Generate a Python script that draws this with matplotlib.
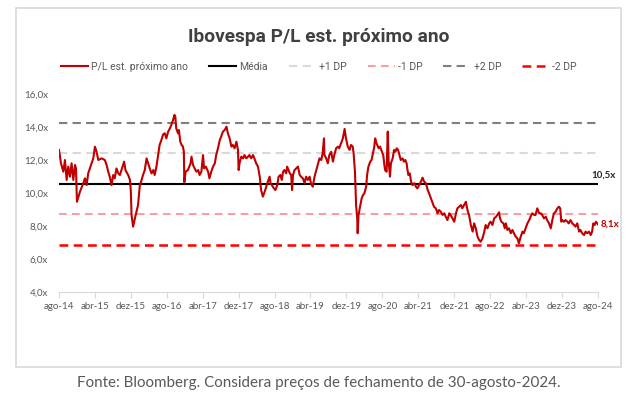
import matplotlib

matplotlib.use("Agg")

import matplotlib.pyplot as plt
import numpy as np
import pandas as pd
from matplotlib.patches import Rectangle

# months after 1-ago-2014 and P/L
MONTHS = [
    0.0, 0.44, 0.96, 1.33, 1.7, 2.07, 2.44, 2.8, 3.19, 3.56, 3.78, 4.0, 4.67, 5.4, 5.78, 6.15,
    6.5, 7.26, 7.63, 8.0, 8.37, 8.74, 9.48, 10.2, 10.6, 10.96, 11.3, 11.7, 12.07, 12.4, 12.8,
    13.2, 13.56, 13.9, 14.5, 14.8, 15.4, 15.8, 16.0, 16.15, 16.5, 16.9, 17.26, 17.6, 18.0,
    18.4, 18.7, 19.1, 19.5, 19.85, 20.2, 20.6, 21.0, 21.3, 21.7, 22.07, 22.4, 22.8, 23.2,
    23.55, 23.9, 24.3, 24.7, 25.0, 25.4, 25.7, 25.9, 26.1, 26.5, 26.7, 27.0, 27.3, 27.6,
    27.8, 27.9, 28.2, 28.7, 29.3, 29.5, 29.85, 30.2, 30.6, 31.0, 31.3, 31.7, 32.07, 32.3,
    32.7, 33.2, 33.5, 33.9, 34.3, 34.7, 35.0, 35.4, 35.8, 36.1, 36.5, 36.9, 37.3, 37.6,
    38.0, 38.4, 38.7, 39.1, 39.5, 39.85, 40.0, 40.2, 40.6, 41.0, 41.3, 41.7, 42.1, 42.4,
    42.8, 43.2, 43.5, 43.9, 44.3, 44.7, 45.0, 45.4, 45.8, 46.15, 46.5, 46.9, 47.1, 47.4,
    47.85, 48.2, 48.6, 48.9, 49.3, 49.6, 49.9, 50.2, 50.6, 50.8, 51.1, 51.4, 51.7, 51.9,
    52.1, 52.45, 52.8, 53.2, 53.6, 53.9, 54.3, 54.7, 55.0, 55.4, 55.8, 56.1, 56.5, 56.9,
    57.3, 57.6, 58.0, 58.4, 58.7, 59.0, 59.1, 59.5, 59.85, 60.2, 60.6, 61.0, 61.3, 61.7,
    62.1, 62.4, 62.8, 63.2, 63.6, 63.9, 64.3, 64.7, 65.0, 65.4, 65.6, 65.9, 66.15, 66.4,
    66.5, 66.7, 67.1, 67.4, 67.7, 68.0, 68.4, 68.6, 68.9, 69.3, 69.6, 70.2, 70.4, 70.7,
    71.2, 71.5, 71.9, 72.2, 72.4, 72.6, 72.95, 73.2, 73.4, 73.7, 73.9, 74.3, 74.6, 74.9,
    75.2, 75.5, 75.8, 76.1, 76.5, 76.8, 77.1, 77.4, 77.6, 77.8, 78.1, 78.4, 78.7, 79.1,
    79.5, 79.8, 80.2, 80.6, 80.95, 81.3, 81.7, 82.1, 82.4, 82.8, 83.2, 83.5, 83.9, 84.3,
    84.6, 85.0, 85.4, 85.8, 86.1, 86.5, 86.9, 87.2, 87.6, 88.0, 88.4, 88.7, 89.1, 89.5,
    89.8, 90.2, 90.6, 90.95, 91.3, 91.7, 92.1, 92.44, 92.8, 93.2, 93.55, 93.9, 94.3, 94.7,
    95.0, 95.4, 95.8, 96.1, 96.5, 96.9, 97.3, 97.6, 98.0, 98.2, 98.5, 98.96, 99.26, 99.5,
    99.85, 100.2, 100.6, 100.96, 101.3, 101.7, 102.07, 102.4, 102.8, 103.2, 103.5, 103.9,
    104.3, 104.7, 105.0, 105.4, 105.8, 106.1, 106.5, 106.9, 107.3, 107.6, 108.0, 108.4,
    108.7, 109.1, 109.5, 109.85, 110.2, 110.6, 110.96, 111.3, 111.6, 111.85, 112.07, 112.4,
    112.8, 113.2, 113.5, 113.9, 114.3, 114.7, 115.0, 115.4, 115.8, 116.1, 116.5, 116.9,
    117.25, 117.6, 118.0, 118.4, 118.7, 118.96, 119.26, 119.56, 119.85, 120.0,
]
PE = [
    12.61, 11.80, 11.29, 12.00, 10.79, 11.60, 10.99, 11.80, 10.79, 11.70, 11.49, 9.47, 10.08, 10.59, 10.89, 10.48,
    11.19, 11.80, 12.10, 12.81, 12.50, 12.00, 12.10, 12.00, 11.70, 11.29, 10.99, 10.48, 11.09, 10.89, 11.49,
    11.19, 11.09, 11.39, 11.90, 11.39, 11.09, 10.79, 10.08, 8.67, 7.96, 8.46, 8.87, 9.27, 10.48,
    10.79, 11.09, 11.39, 12.10, 11.80, 11.49, 11.19, 11.39, 11.09, 11.60, 12.30, 12.91, 13.21, 13.56,
    13.62, 13.31, 13.72, 13.92, 14.12, 14.42, 14.73, 14.63, 13.92, 13.62, 13.82, 13.11, 12.91, 12.81,
    12.50, 10.65, 11.29, 11.39, 11.80, 12.20, 11.70, 11.49, 11.29, 11.39, 11.09, 11.29, 12.30, 11.49,
    11.60, 11.29, 10.89, 11.29, 11.60, 11.80, 12.30, 12.71, 13.21, 13.41, 13.72, 13.82, 14.02, 13.62,
    13.31, 12.81, 12.91, 12.71, 13.11, 12.61, 11.39, 11.80, 12.20, 12.10, 12.30, 12.10, 12.20, 12.30,
    12.10, 12.30, 12.10, 11.80, 11.60, 10.99, 10.18, 9.78, 10.08, 10.38, 10.69, 10.99, 10.59, 10.48,
    10.28, 10.18, 10.48, 10.99, 11.09, 10.79, 11.29, 11.39, 11.19, 11.60, 11.39, 11.19, 11.09, 10.18,
    11.09, 11.39, 11.49, 11.60, 11.09, 10.99, 10.89, 10.59, 10.99, 10.79, 10.99, 10.59, 10.38, 10.99,
    11.39, 11.70, 12.10, 12.00, 12.40, 13.31, 12.30, 12.10, 11.80, 12.30, 12.50, 11.90, 12.30, 12.71,
    12.81, 12.71, 13.01, 13.31, 13.88, 13.31, 12.81, 12.61, 12.91, 12.81, 12.40, 11.29, 9.27, 8.46,
    7.56, 8.67, 9.27, 9.68, 9.88, 9.98, 10.38, 11.09, 11.60, 11.90, 12.00, 12.81, 13.31, 13.01,
    12.71, 12.81, 12.50, 12.30, 11.80, 11.39, 11.29, 13.72, 11.90, 10.99, 11.80, 12.10, 12.61, 12.50,
    12.71, 12.61, 12.30, 12.00, 12.10, 11.90, 12.00, 11.80, 11.39, 11.09, 11.19, 10.69, 10.48, 10.59,
    10.38, 10.28, 10.48, 10.69, 10.93, 10.69, 10.59, 10.18, 9.98, 9.68, 9.37, 9.17, 9.07, 8.77,
    8.97, 8.87, 8.67, 8.77, 8.57, 8.36, 8.77, 8.67, 8.46, 8.26, 8.77, 9.07, 9.17, 9.27,
    9.07, 9.27, 9.47, 8.97, 8.67, 8.06, 7.66, 8.16, 7.86, 7.35, 7.15, 7.05, 7.25, 7.66,
    8.06, 7.86, 8.16, 8.26, 8.06, 8.46, 8.56, 8.67, 8.83, 8.46, 8.26, 8.16, 7.86, 8.16,
    7.76, 7.86, 7.56, 7.76, 7.56, 7.35, 7.25, 6.95, 7.35, 7.66, 7.56, 7.86,
    8.16, 8.36, 8.56, 8.77, 8.67, 8.67, 9.07, 8.77, 8.77, 8.67, 8.46, 8.56,
    8.36, 8.16, 7.86, 8.36, 8.77, 8.87, 9.07, 9.17, 9.07, 8.26, 8.36, 8.26,
    8.36, 8.26, 8.16, 8.36, 8.16, 8.06, 7.96, 8.16, 7.66, 7.76, 7.56, 7.45,
    7.66, 7.56, 7.66, 7.45, 7.66, 8.16, 8.06, 8.26, 8.16, 8.10,
]

MEAN = 10.55
STD = 1.85
TICK_LABELS = [
    "ago-14", "abr-15", "dez-15", "ago-16", "abr-17", "dez-17", "ago-18", "abr-19",
    "dez-19", "ago-20", "abr-21", "dez-21", "ago-22", "abr-23", "dez-23", "ago-24",
]
Y_TICKS = [4, 6, 8, 10, 12, 14, 16]

START = pd.Timestamp("2014-08-01")
dates = START + pd.to_timedelta(np.array(MONTHS) * 30.4375, unit="D")
tick_dates = pd.date_range(START, periods=len(TICK_LABELS), freq="8MS")
x0, x1 = tick_dates[0], tick_dates[-1]

NARROW = ["Roboto", "DejaVu Sans"]
GREY_TXT = "#595959"

fig = plt.figure(figsize=(6.38, 3.95), dpi=100)
fig.patches.append(
    Rectangle((16 / 638, 1 - 367 / 395), 605 / 638, 359 / 395, transform=fig.transFigure,
              fill=False, edgecolor="#d9d9d9", linewidth=1.2)
)

ax = fig.add_axes([59 / 638, 1 - 292 / 395, 539 / 638, 198 / 395])

ax.plot(dates, PE, color="#c00000", linewidth=1.5, label="P/L est. próximo ano", zorder=5)
ax.plot([x0, x1], [MEAN, MEAN], color="black", linewidth=1.5, label="Média", zorder=4)
ax.plot([x0, x1], [MEAN + STD] * 2, color="#d9d9d9", linewidth=1.5,
        linestyle=(0, (4, 2.5)), label="+1 DP")
ax.plot([x0, x1], [MEAN - STD] * 2, color="#ff7c80", linewidth=1.1,
        linestyle=(0, (5, 3.5)), label="-1 DP")
ax.plot([x0, x1], [MEAN + 2 * STD] * 2, color="#7f7f7f", linewidth=1.5,
        linestyle=(0, (4, 2.5)), label="+2 DP")
ax.plot([x0, x1], [MEAN - 2 * STD] * 2, color="#ff0000", linewidth=1.8,
        linestyle=(0, (3.5, 2.2)), label="-2 DP")

ax.set_xlim(x0, x1)
ax.set_ylim(4, 16)
ax.set_yticks(Y_TICKS)
ax.set_yticklabels([f"{v:.1f}x".replace(".", ",") for v in Y_TICKS])
ax.set_xticks(tick_dates)
ax.set_xticklabels(TICK_LABELS)

for side in ("top", "right", "left"):
    ax.spines[side].set_visible(False)
ax.spines["bottom"].set_color("#d9d9d9")
ax.tick_params(axis="x", length=4, color="#d9d9d9", pad=3, labelsize=7, labelcolor=GREY_TXT)
ax.tick_params(axis="y", length=0, pad=8, labelsize=7, labelcolor=GREY_TXT)
for lab in ax.get_xticklabels() + ax.get_yticklabels():
    lab.set_family("Lato")

ax.annotate("10,5x", xy=(x1, MEAN), xytext=(4, 3), textcoords="offset points",
            ha="center", va="bottom", fontsize=7, fontweight="bold", color="#262626",
            family="Lato", annotation_clip=False)
ax.annotate("8,1x", xy=(dates[-1], PE[-1]), xytext=(2, 0), textcoords="offset points",
            ha="left", va="center", fontsize=7, fontweight="bold", color="#c00000",
            family="Lato", annotation_clip=False)

fig.text(0.5, 1 - 37 / 395, "Ibovespa P/L est. próximo ano", ha="center", va="center",
         fontsize=13.8, fontweight="bold", color="#404040", family=NARROW)

leg = fig.legend(loc="center", bbox_to_anchor=(0.5, 1 - 67 / 395), ncol=6, frameon=False,
                 handlelength=2.6, columnspacing=2.0, handletextpad=0.3,
                 prop={"family": NARROW, "size": 7.5})
for t in leg.get_texts():
    t.set_color(GREY_TXT)

fig.text(0.5, 1 - 383 / 395, "Fonte: Bloomberg. Considera preços de fechamento de 30-agosto-2024.",
         ha="center", va="center", fontsize=10.9, color="#595959", family="Lato")

fig.savefig("out.png", dpi=100)
